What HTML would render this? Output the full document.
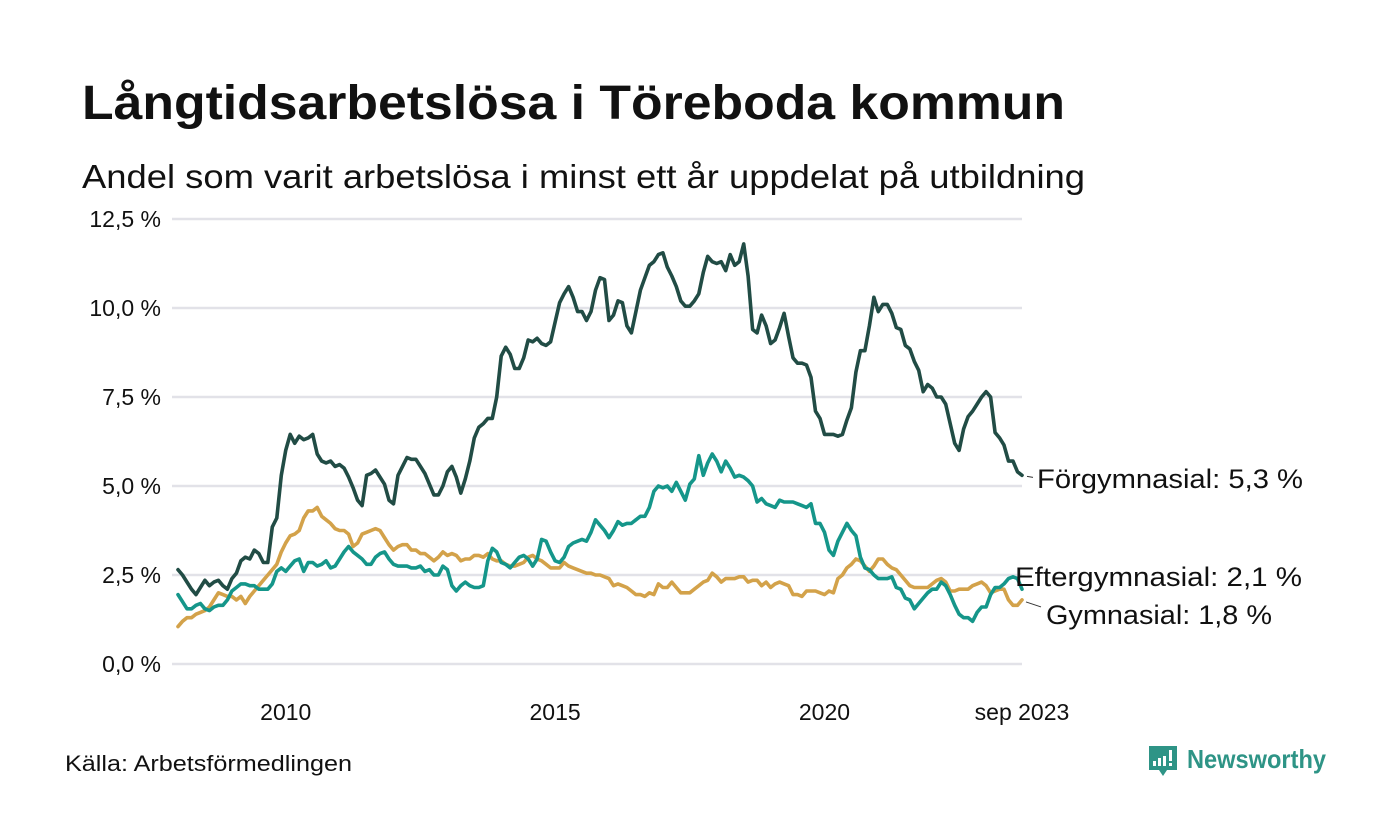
<!DOCTYPE html>
<html><head><meta charset="utf-8">
<style>
html,body{margin:0;padding:0;background:#fff;}
svg{display:block;font-family:"Liberation Sans","DejaVu Sans",sans-serif;}
</style></head>
<body>
<svg id="chart" width="1400" height="840" viewBox="0 0 1400 840" xmlns="http://www.w3.org/2000/svg">
<rect width="1400" height="840" fill="#fff"/>
<text x="82" y="119" font-size="48" font-weight="bold" fill="#111" textLength="983" lengthAdjust="spacingAndGlyphs">Långtidsarbetslösa i Töreboda kommun</text>
<text x="82" y="188" font-size="33" fill="#111" textLength="1003" lengthAdjust="spacingAndGlyphs">Andel som varit arbetslösa i minst ett år uppdelat på utbildning</text>
<g id="grid"></g>
<g id="xaxis"></g>
<g id="lines"></g>
<g id="labels"></g>
<text x="65" y="771" font-size="22" fill="#111" textLength="287" lengthAdjust="spacingAndGlyphs">Källa: Arbetsförmedlingen</text>
<g>
  <path d="M1149 746 h28 v24 h-10 l-4 6 l-4 -6 h-10 z" fill="#2e9486"/>
  <rect x="1153" y="761" width="3" height="5" fill="#fff"/>
  <rect x="1158" y="758" width="3" height="8" fill="#fff"/>
  <rect x="1163" y="756" width="3" height="10" fill="#fff"/>
  <rect x="1169" y="750" width="3" height="11" fill="#fff"/>
  <rect x="1169" y="763" width="3" height="3" fill="#fff"/>
  <text x="1187" y="768" font-size="26" font-weight="bold" fill="#2e9486" textLength="139" lengthAdjust="spacingAndGlyphs">Newsworthy</text>
</g>
</svg>
<script>
const yTicks = [0, 2.5, 5, 7.5, 10, 12.5];
const yTickLabels = ["0,0 %", "2,5 %", "5,0 %", "7,5 %", "10,0 %", "12,5 %"];
const xTickMonths = [24, 84, 144, 188];
const xTickLabels = ["2010", "2015", "2020", "sep 2023"];
const seriesNames = ["Förgymnasial", "Eftergymnasial", "Gymnasial"];
const lastLabels = ["Förgymnasial: 5,3 %", "Eftergymnasial: 2,1 %", "Gymnasial: 1,8 %"];
// monthly values from Jan 2008 to Sep 2023
const forgymnasial = [2.65,2.5,2.3,2.1,1.95,2.15,2.35,2.2,2.3,2.35,2.2,2.1,2.4,2.55,2.9,3.0,2.95,3.2,3.1,2.85,2.85,3.85,4.1,5.3,6.0,6.45,6.2,6.4,6.3,6.35,6.45,5.9,5.7,5.65,5.7,5.55,5.6,5.5,5.25,4.95,4.6,4.45,5.3,5.35,5.45,5.25,5.05,4.6,4.5,5.3,5.55,5.8,5.75,5.75,5.55,5.35,5.05,4.75,4.75,5.0,5.4,5.55,5.25,4.8,5.2,5.7,6.35,6.65,6.75,6.9,6.9,7.5,8.65,8.9,8.7,8.3,8.3,8.6,9.1,9.05,9.15,9.0,8.95,9.05,9.6,10.15,10.4,10.6,10.3,9.9,9.9,9.65,9.9,10.5,10.85,10.8,9.65,9.8,10.2,10.15,9.5,9.3,9.9,10.5,10.85,11.2,11.3,11.5,11.55,11.15,10.9,10.6,10.2,10.05,10.05,10.2,10.4,11.0,11.45,11.3,11.25,11.3,11.05,11.5,11.2,11.3,11.8,10.9,9.4,9.3,9.8,9.5,9.0,9.1,9.45,9.85,9.2,8.6,8.45,8.45,8.4,8.05,7.1,6.9,6.45,6.45,6.45,6.4,6.45,6.85,7.2,8.2,8.8,8.8,9.5,10.3,9.9,10.1,10.1,9.85,9.45,9.4,8.95,8.85,8.5,8.25,7.65,7.85,7.75,7.5,7.5,7.3,6.75,6.2,6.0,6.6,6.95,7.1,7.3,7.5,7.65,7.5,6.5,6.35,6.15,5.7,5.7,5.4,5.3];
const eftergymnasial = [1.95,1.75,1.55,1.55,1.65,1.7,1.55,1.5,1.6,1.65,1.65,1.8,2.05,2.15,2.25,2.25,2.2,2.2,2.1,2.1,2.1,2.25,2.6,2.7,2.6,2.75,2.9,2.95,2.6,2.85,2.85,2.75,2.8,2.9,2.7,2.75,2.95,3.15,3.3,3.15,3.05,2.95,2.8,2.8,3.0,3.1,3.15,2.95,2.8,2.75,2.75,2.75,2.7,2.7,2.75,2.6,2.65,2.5,2.5,2.75,2.65,2.2,2.05,2.2,2.3,2.2,2.15,2.15,2.2,2.9,3.25,3.15,2.85,2.8,2.7,2.85,3.0,3.05,2.95,2.75,2.95,3.5,3.45,3.15,2.9,2.85,3.0,3.3,3.4,3.45,3.5,3.45,3.7,4.05,3.9,3.75,3.55,3.75,4.0,3.9,3.95,3.95,4.05,4.15,4.15,4.4,4.85,5.0,4.95,5.0,4.85,5.1,4.85,4.6,5.05,5.2,5.85,5.3,5.65,5.9,5.7,5.4,5.7,5.5,5.25,5.3,5.25,5.15,5.0,4.55,4.65,4.5,4.45,4.4,4.6,4.55,4.55,4.55,4.5,4.45,4.4,4.5,3.95,3.95,3.7,3.2,3.05,3.45,3.7,3.95,3.75,3.6,3.0,2.7,2.65,2.5,2.4,2.4,2.4,2.45,2.15,2.1,1.85,1.8,1.55,1.7,1.85,2.0,2.1,2.1,2.3,2.2,1.95,1.65,1.4,1.3,1.3,1.2,1.45,1.6,1.6,1.95,2.15,2.15,2.25,2.4,2.45,2.4,2.1];
const gymnasial = [1.05,1.2,1.3,1.3,1.4,1.45,1.5,1.6,1.8,2.0,1.95,1.9,1.9,1.8,1.9,1.7,1.9,2.05,2.2,2.35,2.5,2.65,2.8,3.15,3.4,3.6,3.65,3.75,4.1,4.3,4.3,4.4,4.15,4.05,3.95,3.8,3.75,3.75,3.65,3.3,3.4,3.65,3.7,3.75,3.8,3.75,3.55,3.35,3.2,3.3,3.35,3.35,3.2,3.2,3.1,3.1,3.0,2.9,3.0,3.15,3.05,3.1,3.05,2.9,2.95,2.95,3.05,3.05,3.0,3.1,2.95,2.9,2.9,2.8,2.75,2.75,2.8,2.85,3.0,3.05,2.95,2.9,2.8,2.7,2.7,2.7,2.85,2.75,2.7,2.65,2.6,2.55,2.55,2.5,2.5,2.45,2.4,2.2,2.25,2.2,2.15,2.05,1.95,1.95,1.9,2.0,1.95,2.25,2.15,2.15,2.3,2.15,2.0,2.0,2.0,2.1,2.2,2.3,2.35,2.55,2.45,2.3,2.4,2.4,2.4,2.45,2.45,2.3,2.35,2.35,2.2,2.3,2.15,2.25,2.3,2.25,2.2,1.95,1.95,1.9,2.05,2.05,2.05,2.0,1.95,2.05,2.0,2.4,2.5,2.7,2.8,2.95,2.9,2.75,2.6,2.75,2.95,2.95,2.8,2.7,2.65,2.5,2.35,2.2,2.15,2.15,2.15,2.15,2.25,2.35,2.4,2.3,2.05,2.05,2.1,2.1,2.1,2.2,2.25,2.3,2.2,2.0,2.05,2.1,2.1,1.8,1.65,1.65,1.8];

const NS = "http://www.w3.org/2000/svg";
const X0 = 178, X1 = 1022, Y0 = 664, Y1 = 219;
const nMonths = 188;
function xScale(m){ return X0 + (X1 - X0) * m / nMonths; }
function yScale(v){ return Y0 - (Y0 - Y1) * v / 12.5; }
function mk(tag, attrs, parent){ const e = document.createElementNS(NS, tag); for (const k in attrs) e.setAttribute(k, attrs[k]); parent.appendChild(e); return e; }

const grid = document.getElementById('grid');
yTicks.forEach((t, i) => {
  const ln = mk('line', {x1: 172, x2: 1022, y1: yScale(t), y2: yScale(t), stroke: '#e2e2e8', 'stroke-width': 2.5}, grid);
  
  
  const tx = mk('text', {x: 161, y: yScale(t) + 8, 'font-size': 23, 'text-anchor': 'end', fill: '#111'}, grid);
  tx.textContent = yTickLabels[i];
  
  
});
const xaxis = document.getElementById('xaxis');
xTickMonths.forEach((m, i) => {
  const tx = mk('text', {x: xScale(m), y: 720, 'font-size': 23, 'text-anchor': 'middle', fill: '#111'}, xaxis);
  tx.textContent = xTickLabels[i];
  
  
});
const colors = ['#214c45', '#15968a', '#d3a24a'];
const allSeries = [forgymnasial, eftergymnasial, gymnasial];
const order = [2, 1, 0];
const lines = document.getElementById('lines');
order.forEach(si => {
  const d = allSeries[si].map((v, m) => (m ? 'L' : 'M') + xScale(m).toFixed(1) + ' ' + yScale(v).toFixed(1)).join(' ');
  const p = mk('path', {d: d, fill: 'none', stroke: colors[si], 'stroke-width': 3.6, 'stroke-linejoin': 'round', 'stroke-linecap': 'round'}, lines);
  
  
});
const labels = document.getElementById('labels');
const labelPos = [[1037, 488], [1015, 586], [1046, 624]];
const labelLens = [266, 287, 226];
lastLabels.forEach((s, i) => {
  const tx = mk('text', {x: labelPos[i][0], y: labelPos[i][1], 'font-size': 27, fill: '#111', textLength: labelLens[i], lengthAdjust: 'spacingAndGlyphs'}, labels);
  tx.textContent = s;
  
  
});
const c1 = mk('line', {x1: 1027, y1: yScale(forgymnasial[nMonths]) + 1, x2: 1033, y2: yScale(forgymnasial[nMonths]) + 2, stroke: '#333', 'stroke-width': 1}, labels);


const c2 = mk('line', {x1: 1026, y1: yScale(gymnasial[nMonths]) + 2, x2: 1041, y2: yScale(gymnasial[nMonths]) + 7, stroke: '#333', 'stroke-width': 1}, labels);


</script>
</body></html>
